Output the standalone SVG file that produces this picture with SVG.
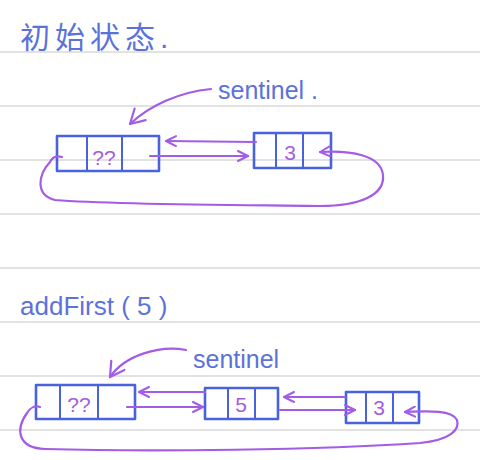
<svg xmlns="http://www.w3.org/2000/svg" width="480" height="460" viewBox="0 0 480 460">
<defs>
<style>
.rule{stroke:#c6c6c6;stroke-width:1.2}
.box{fill:none;stroke:#4a62dc;stroke-width:2.6;stroke-linejoin:round}
.div{stroke:#4a62dc;stroke-width:2}
.lbl{font-family:"Liberation Sans","Noto Sans CJK SC",sans-serif;fill:#5c72da}
.val{font-family:"Liberation Sans",sans-serif;fill:#a25ee0;font-size:21px;text-anchor:middle}
.arr{fill:none;stroke:#a35ce6;stroke-width:2.2;stroke-linecap:round}
</style>
<marker id="ah" viewBox="0 0 12 12" refX="11" refY="6" markerWidth="12" markerHeight="12" markerUnits="userSpaceOnUse" orient="auto">
<path d="M1,1 L11,6 L1,11" fill="none" stroke="#a35ce6" stroke-width="2" stroke-linecap="round" stroke-linejoin="round"/>
</marker>
<marker id="ahl" viewBox="0 0 18 18" refX="16" refY="9" markerWidth="18" markerHeight="18" markerUnits="userSpaceOnUse" orient="auto">
<path d="M2,1 L16,9 L2,17" fill="none" stroke="#a35ce6" stroke-width="2.2" stroke-linecap="round" stroke-linejoin="round"/>
</marker>
</defs>
<rect width="480" height="460" fill="#ffffff"/>
<g id="rules">
<line class="rule" x1="0" y1="52" x2="480" y2="52"/>
<line class="rule" x1="0" y1="106" x2="480" y2="106"/>
<line class="rule" x1="0" y1="160" x2="480" y2="160"/>
<line class="rule" x1="0" y1="214" x2="480" y2="214"/>
<line class="rule" x1="0" y1="268" x2="480" y2="268"/>
<line class="rule" x1="0" y1="322" x2="480" y2="322"/>
<line class="rule" x1="0" y1="376" x2="480" y2="376"/>
<line class="rule" x1="0" y1="430" x2="480" y2="430"/>
</g>
<g id="title1"><text class="lbl" x="20" y="48" font-size="30" letter-spacing="5">初始状态.</text></g>
<g id="title2"><text class="lbl" x="20" y="315" font-size="26">addFirst ( 5 )</text></g>
<g id="label-sentinel-1"><text class="lbl" x="218" y="99" font-size="25">sentinel .</text></g>
<g id="label-sentinel-2"><text class="lbl" x="193" y="368" font-size="25">sentinel</text></g>
<g id="node-s1">
<rect class="box" x="57" y="136" width="102" height="35"/>
<line class="div" x1="87" y1="136" x2="87" y2="171"/>
<line class="div" x1="122" y1="136" x2="122" y2="171"/>
<text class="val" x="104" y="165">??</text>
</g>
<g id="node-31">
<rect class="box" x="254" y="133" width="77" height="35"/>
<line class="div" x1="276" y1="133" x2="276" y2="168"/>
<line class="div" x1="303" y1="133" x2="303" y2="168"/>
<text class="val" x="290" y="160">3</text>
</g>
<g id="node-s2">
<rect class="box" x="36" y="385" width="99" height="34"/>
<line class="div" x1="60" y1="385" x2="60" y2="419"/>
<line class="div" x1="98" y1="385" x2="98" y2="419"/>
<text class="val" x="79" y="412">??</text>
</g>
<g id="node-5">
<rect class="box" x="205" y="388" width="73" height="31"/>
<line class="div" x1="228" y1="388" x2="228" y2="419"/>
<line class="div" x1="255" y1="388" x2="255" y2="419"/>
<text class="val" x="241" y="412">5</text>
</g>
<g id="node-32">
<rect class="box" x="346" y="392" width="73" height="31"/>
<line class="div" x1="366" y1="392" x2="366" y2="423"/>
<line class="div" x1="393" y1="392" x2="393" y2="423"/>
<text class="val" x="379" y="415">3</text>
</g>
<g id="connectors">
<path class="arr" d="M211,89 C180,92 150,105 130,124" marker-end="url(#ahl)"/>
<path class="arr" d="M256,142 L166,141" marker-end="url(#ah)"/>
<path class="arr" d="M150,156 L248,156" marker-end="url(#ah)"/>
<path class="arr" d="M62,157 C56,155 52,158 50,162 C38,175 35,195 55,200 C120,205 250,205 320,206 C360,206 385,195 383,175 C381,155 350,150 320,152" marker-end="url(#ah)"/>
<path class="arr" d="M186,350 C160,345 125,355 110,377" marker-end="url(#ahl)"/>
<path class="arr" d="M205,392 L139,392" marker-end="url(#ah)"/>
<path class="arr" d="M127,407 L203,407" marker-end="url(#ah)"/>
<path class="arr" d="M345,397 L284,397" marker-end="url(#ah)"/>
<path class="arr" d="M280,410 L355,410" marker-end="url(#ah)"/>
<path class="arr" d="M40,407 C35,405 30,408 27,413 C15,430 18,448 45,449 C150,452 320,450 420,443 C450,440 460,430 457,420 C452,410 430,411 405,412" marker-end="url(#ah)"/>
</g>
</svg>
